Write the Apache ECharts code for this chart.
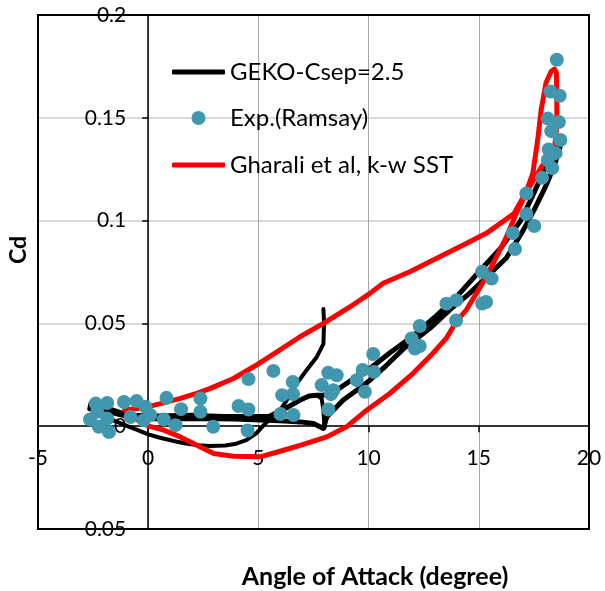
<!DOCTYPE html>
<html><head><meta charset="utf-8">
<script src="https://cdn.jsdelivr.net/npm/echarts@6/dist/echarts.min.js"></script>
<style>html,body{margin:0;padding:0;background:#fff}#c{width:605px;height:591px}</style>
</head><body><div id="c"></div>
<script>
const xTickLabels = ['-5', '0', '5', '10', '15', '20'];
const yTickLabels = ['-0.05', '0', '0.05', '0.1', '0.15', '0.2'];
const seriesNames = ['GEKO-Csep=2.5', 'Exp.(Ramsay)', 'Gharali et al, k-w SST'];
const xTitle = 'Angle of Attack (degree)';
const yTitle = 'Cd';

// Experimental data (angle of attack, Cd)
const expRamsay = [
  [-2.64,0.0033],[-2.38,0.011],[-2.31,0.007],[-2.24,-0.0003],[-1.86,0.0113],[-1.86,0.0037],
  [-1.78,-0.0028],[-1.10,0.0118],[-0.80,0.0045],[-0.53,0.0122],[-0.20,0.0029],[-0.12,0.0094],
  [0.10,0.0054],[0.71,0.0033],[0.83,0.0138],[1.24,0.0005],[1.49,0.0083],[2.37,0.0135],
  [2.37,0.007],[2.95,-0.0003],[4.10,0.0098],[4.55,0.0229],[4.55,0.0081],[4.51,-0.0021],
  [5.68,0.0269],[6.56,0.0215],[6.08,0.0151],[6.57,0.0156],[6.00,0.0059],[6.59,0.0054],
  [7.87,0.020],[8.17,0.026],[8.55,0.0248],[8.40,0.0175],[8.29,0.0156],[8.17,0.0081],
  [9.46,0.0224],[9.73,0.0273],[9.83,0.0167],[10.21,0.0351],[10.24,0.0264],[11.95,0.0427],
  [12.10,0.0378],[12.32,0.039],[12.32,0.0487],[13.53,0.0596],[13.98,0.0613],[13.97,0.0514],
  [15.15,0.0597],[15.33,0.0604],[15.15,0.0751],[15.58,0.0718],[16.54,0.094],[16.64,0.0862],
  [17.16,0.1132],[17.16,0.1032],[17.52,0.0974],[17.87,0.1208],[18.17,0.1346],[18.33,0.1255],
  [18.48,0.1328],[18.13,0.1295],[18.29,0.1435],[18.70,0.1392],[18.13,0.1496],[18.63,0.1479],
  [18.25,0.1628],[18.67,0.1607],[18.54,0.1782]
];

// GEKO simulation: initial transient from alpha = 8 deg
const gekoTransient = [
  [7.95,0.057],[7.98,0.050],[7.95,0.040],[7.65,0.0337],[7.19,0.0273],[6.74,0.0208],
  [6.29,0.0127],[5.99,0.0078],[5.53,0.0035],[5.2,0.0],[4.9,-0.0035],[4.45,-0.0068],
  [4.0,-0.0085],[3.5,-0.0094],[2.8,-0.0096],[2.3,-0.0093],[1.7,-0.0084],[1.16,-0.0072],
  [0.5,-0.0055],[0.0,-0.0040],[-0.5,-0.0018],[-0.94,0.0],[-1.5,0.0025],[-2.2,0.0055],[-2.65,0.0085]
];
// GEKO simulation: periodic loop
const gekoCycle = [
  [-2.65,0.0085],[-2.6,0.011],[-2.2,0.0092],[-1.5,0.0062],[-0.9,0.0045],[0,0.0036],[1,0.0036],
  [2.4,0.0038],[3.9,0.0035],[5.4,0.0029],[6.2,0.0025],[6.9,0.0021],[7.5,0.0013],[7.95,-0.0011],
  [8.1,0.0045],[8.4,0.0078],[8.85,0.0127],[9.46,0.0175],[10.06,0.0224],[10.8,0.0295],
  [11.57,0.0375],[12.77,0.0475],[13.83,0.058],[14.58,0.0646],[15.5,0.074],[16.25,0.0818],
  [17.0,0.095],[17.5,0.105],[18.05,0.117],[18.4,0.126],[18.65,0.134],[18.75,0.140],
  [18.6,0.139],[18.3,0.132],[17.9,0.123],[17.4,0.111],[16.9,0.100],[16.0,0.0867],
  [15.0,0.075],[14.0,0.063],[13.0,0.053],[12.0,0.0438],[11.0,0.036],[10.06,0.0281],
  [9.52,0.0248],[9.0,0.0208],[8.55,0.0175],[8.25,0.016],[7.9,0.0150],[7.65,0.015],
  [7.3,0.0147],[6.9,0.0127],[6.2,0.0085],[5.5,0.0048],[4.5,0.0047],[3.4,0.0047],
  [1.9,0.0053],[0.5,0.0050],[-0.9,0.0053],[-1.8,0.0085],[-2.6,0.0105]
];
const gekoBump = [
  [7.65,0.015],[7.87,0.0135],[7.95,0.0078],[8.0,-0.0008]
];

// Gharali et al., k-w SST loop
const gharaliSST = [
  [-1.07,0.0078],[-0.8,0.0083],[-0.5,0.0086],[0.0,0.0095],[0.56,0.011],[1.46,0.0135],
  [2.2,0.016],[2.82,0.0184],[3.87,0.0232],[4.78,0.0289],[5.84,0.0362],[6.89,0.0435],
  [7.95,0.050],[9.15,0.058],[10.06,0.0646],[10.66,0.0695],[11.87,0.0751],[13.23,0.0824],
  [14.43,0.0889],[15.34,0.0938],[16.09,0.0995],[16.6,0.1035],[17.15,0.114],[17.45,0.123],
  [17.67,0.139],[17.83,0.154],[18.05,0.167],[18.28,0.1725],[18.43,0.1737],[18.52,0.1720],
  [18.54,0.160],[18.54,0.1457],[18.45,0.137],[18.2,0.1315],[17.9,0.127],[17.3,0.1165],
  [16.7,0.1035],[16.25,0.092],[15.8,0.0824],[15.34,0.0727],[14.89,0.0646],[14.43,0.0565],
  [13.98,0.051],[13.53,0.0428],[12.92,0.0355],[12.02,0.0257],[10.96,0.0159],[9.91,0.0078],
  [9.0,-0.0003],[8.1,-0.0052],[6.89,-0.0093],[6.14,-0.0117],[5.08,-0.0149],[3.87,-0.0146],
  [2.97,-0.0133],[2.37,-0.0101],[1.46,-0.0052],[0.71,-0.0019],[0.03,0.0],[-0.35,0.0021],
  [-0.9,0.0063],[-1.07,0.0078]
];

const FONT = 'Lato';
const pick = (labels) => (v) => {
  const t = labels.find(s => Math.abs(parseFloat(s) - v) < 1e-9);
  return t === undefined ? '' : t;
};

const G = {left: 38, top: 15, width: 551, height: 514};
const X_RANGE = [-5, 20], Y_RANGE = [-0.05, 0.2];
// shift axes so that they cross at zero (computed from the axis ranges)
const xAxisOffset = -G.height * (0 - Y_RANGE[0]) / (Y_RANGE[1] - Y_RANGE[0]);
const yAxisOffset = -G.width * (0 - X_RANGE[0]) / (X_RANGE[1] - X_RANGE[0]);

const chart = echarts.init(document.getElementById('c'), null, {renderer: 'canvas'});
const gekoThin = {color: '#000', width: 4, join: 'round', cap: 'round'};
const gekoThick = {color: '#000', width: 5, join: 'round', cap: 'round'};
const gridAxisCommon = {
  show: true, axisLine: {show: false}, axisTick: {show: false}, axisLabel: {show: false}, z: -1
};
const legendText = {fontSize: 24, lineHeight: 26, fontFamily: FONT, color: '#000'};
chart.setOption({
  animation: false,
  backgroundColor: '#fff',
  textStyle: {fontFamily: FONT, color: '#000'},
  grid: Object.assign({show: true, borderColor: '#000', borderWidth: 2,
         backgroundColor: 'transparent', containLabel: false, outerBoundsMode: 'none'}, G),
  xAxis: [
    {type: 'value', min: X_RANGE[0], max: X_RANGE[1], interval: 5, position: 'bottom', offset: xAxisOffset,
     axisLine: {onZero: false, lineStyle: {color: '#000', width: 1.5}},
     axisTick: {show: true, length: 6, lineStyle: {color: '#000', width: 1.5}},
     axisLabel: {margin: 22, fontSize: 21, color: '#000', fontFamily: FONT, formatter: pick(xTickLabels)},
     splitLine: {show: false}, z: 1},
    Object.assign({}, gridAxisCommon, {type: 'value', min: X_RANGE[0], max: X_RANGE[1], interval: 5,
     splitLine: {show: true, showMinLine: false, showMaxLine: false, lineStyle: {color: '#a6a6a6', width: 1}}})
  ],
  yAxis: [
    {type: 'value', min: Y_RANGE[0], max: Y_RANGE[1], interval: 0.05, position: 'left', offset: yAxisOffset,
     axisLine: {onZero: false, lineStyle: {color: '#000', width: 1.5}},
     axisTick: {show: true, length: 6, lineStyle: {color: '#000', width: 1.5}},
     axisLabel: {margin: 22, fontSize: 21, color: '#000', fontFamily: FONT, formatter: pick(yTickLabels)},
     splitLine: {show: false}, z: 1},
    Object.assign({}, gridAxisCommon, {type: 'value', min: Y_RANGE[0], max: Y_RANGE[1], interval: 0.05,
     splitLine: {show: true, showMinLine: false, showMaxLine: false, lineStyle: {color: '#d9d9d9', width: 2}}})
  ],
  legend: [
    {left: 172, top: 59, orient: 'vertical', padding: 0, itemWidth: 53, itemHeight: 5, selectedMode: false,
     textStyle: legendText, data: [{name: seriesNames[0], icon: 'roundRect'}]},
    {left: 191.5, top: 105, orient: 'vertical', padding: 0, itemWidth: 53, itemHeight: 14, selectedMode: false,
     textStyle: legendText, data: [{name: seriesNames[1], icon: 'circle'}]},
    {left: 172, top: 152, orient: 'vertical', padding: 0, itemWidth: 53, itemHeight: 5, selectedMode: false,
     textStyle: legendText, data: [{name: seriesNames[2], icon: 'roundRect'}]}
  ],
  graphic: [
    {type: 'text', x: 19, y: 250, rotation: Math.PI / 2,
     style: {text: yTitle, font: 'bold 23px ' + FONT, fill: '#000', align: 'center', verticalAlign: 'middle'}},
    {type: 'text', x: 375, y: 577,
     style: {text: xTitle, font: 'bold 25px ' + FONT, fill: '#000', align: 'center', verticalAlign: 'middle'}}
  ],
  series: [
    {name: seriesNames[0], type: 'line', data: gekoTransient, symbol: 'none', lineStyle: gekoThin,
     itemStyle: {color: '#000'}, color: '#000', z: 2, clip: true},
    {name: seriesNames[0], type: 'line', data: gekoCycle, symbol: 'none', lineStyle: gekoThick,
     itemStyle: {color: '#000'}, color: '#000', z: 2, clip: true},
    {name: seriesNames[0], type: 'line', data: gekoBump, symbol: 'none', lineStyle: gekoThin,
     itemStyle: {color: '#000'}, color: '#000', z: 2, clip: true},
    {name: seriesNames[2], type: 'line', data: gharaliSST, symbol: 'none',
     lineStyle: {color: '#ff0000', width: 5, join: 'round', cap: 'round'},
     itemStyle: {color: '#ff0000'}, color: '#ff0000', z: 3, clip: true},
    {name: seriesNames[1], type: 'scatter', data: expRamsay, symbol: 'circle', symbolSize: 14,
     itemStyle: {color: '#4198ae', opacity: 1}, color: '#4198ae', z: 4}
  ]
});
</script>
</body></html>
